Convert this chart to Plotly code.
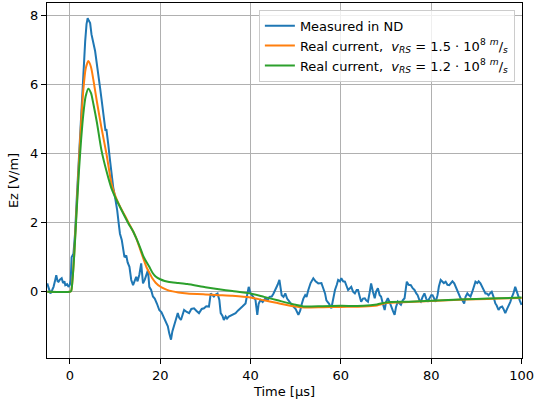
import plotly.graph_objects as go

# Measured signal
t_meas = [-5.0, -4.6, -4.3, -3.9, -3.6, -3.3, -3.0, -2.7, -2.5, -2.2, -1.8, -1.5, -1.2, -1.0, -0.6, -0.3, 0.0, 0.2, 0.4, 0.8,
          1.16, 1.5, 1.9, 2.2, 2.6, 3.0, 3.4, 3.7, 3.95, 4.2, 4.5, 4.8, 5.2, 5.6, 6.1, 6.4, 6.7, 7.0, 7.4, 7.7,
          7.9, 8.1, 8.3, 8.5, 8.9, 9.2, 9.6, 10.0, 10.3, 10.5, 10.8, 11.1, 11.5, 11.8, 12.1, 12.5, 12.8, 13.2, 13.6, 14.0,
          14.4, 14.7, 15.0, 15.4, 15.8, 16.2, 16.6, 17.0, 17.3, 17.6, 18.0, 18.4, 18.8, 19.3, 19.8, 20.3, 20.8, 21.3, 21.7, 22.0,
          22.4, 22.7, 23.1, 23.5, 23.9, 24.2, 24.6, 25.0, 25.3, 25.8, 26.4, 26.9, 27.5, 28.0, 28.6, 29.2, 29.7, 30.2, 30.8, 31.2,
          31.6, 31.9, 32.3, 32.7, 33.1, 33.4, 33.8, 34.1, 34.5, 34.8, 35.2, 35.7, 36.2, 36.7, 37.2, 37.7, 38.2, 38.9, 39.3, 39.6,
          40.0, 40.5, 41.1, 41.5, 41.8, 42.2, 42.7, 43.3, 43.8, 44.2, 44.7, 45.1, 45.5, 46.0, 46.4, 46.9, 47.3, 47.7, 48.1, 48.4,
          49.0, 49.5, 50.0, 50.6, 51.0, 51.3, 51.7, 52.1, 52.4, 52.8, 53.3, 53.9, 54.4, 55.0, 55.7, 56.1, 56.5, 56.8, 57.4, 57.9,
          58.3, 58.7, 59.1, 59.4, 59.8, 60.1, 60.5, 60.9, 61.3, 61.6, 62.0, 62.3, 62.7, 63.1, 63.5, 63.8, 64.2, 64.5, 64.9, 65.3,
          65.6, 66.0, 66.4, 66.7, 67.1, 67.5, 67.8, 68.2, 68.6, 68.9, 69.3, 69.7, 70.0, 70.4, 70.8, 71.1, 71.5, 71.9, 72.2, 72.6,
          73.0, 73.3, 73.7, 74.1, 74.4, 74.6, 75.0, 75.5, 75.9, 76.3, 76.7, 77.0, 77.4, 77.7, 78.1, 78.5, 78.9, 79.2, 79.6, 80.0,
          80.3, 80.7, 81.0, 81.4, 81.7, 82.1, 82.5, 82.8, 83.2, 83.6, 84.0, 84.4, 84.7, 85.1, 85.5, 85.8, 86.2, 86.5, 86.9, 87.3,
          87.6, 88.0, 88.3, 88.7, 89.1, 89.4, 89.8, 90.2, 90.5, 90.9, 91.2, 91.6, 92.0, 92.3, 92.7, 93.0, 93.4, 93.8, 94.2, 94.5,
          94.9, 95.3, 95.7, 96.0, 96.4, 96.8, 97.1, 97.5, 97.9, 98.2, 98.6, 98.9, 99.3, 99.6, 100.0]
ez_meas = [0.24, 0.1, -0.05, 0.05, 0.14, 0.3, 0.48, 0.3, 0.29, 0.35, 0.39, 0.25, 0.3, 0.19, 0.22, 0.14, 0.2, 0.34, 1.0, 1.1,
           1.68, 2.6, 3.6, 4.4, 5.5, 6.5, 7.25, 7.75, 7.92, 7.85, 7.78, 7.45, 7.25, 6.97, 6.48, 6.25, 5.9, 5.6, 5.24, 4.9,
           4.66, 4.71, 4.4, 4.28, 3.8, 3.45, 3.03, 2.75, 2.55, 2.35, 2.0, 1.68, 1.5, 1.2, 1.0, 1.05, 0.85, 0.72, 0.34, 0.19,
           0.3, 0.43, 0.3, 0.5, 0.82, 0.24, 0.35, 0.55, 0.63, 0.14, 0.05, -0.14, -0.2, -0.35, -0.53, -0.6, -0.75, -0.91, -1.0, -1.2,
           -1.39, -1.15, -1.0, -0.8, -0.62, -0.75, -0.82, -0.65, -0.53, -0.58, -0.62, -0.5, -0.48, -0.55, -0.62, -0.5, -0.48, -0.42, -0.43, -0.05,
           -0.1, -0.14, -0.08, -0.05, -0.24, -0.62, -0.7, -0.82, -0.72, -0.78, -0.72, -0.68, -0.65, -0.62, -0.55, -0.5, -0.43, -0.34, -0.1, 0.14,
           -0.05, -0.15, -0.24, -0.67, -0.35, -0.24, -0.3, -0.19, -0.25, -0.15, -0.14, -0.05, 0.05, 0.2, 0.34, -0.1, -0.15, -0.05, -0.2, -0.24,
           -0.35, -0.43, -0.5, -0.67, -0.55, -0.38, -0.2, -0.1, -0.15, 0.05, 0.25, 0.39, 0.3, 0.24, 0.25, 0.1, -0.05, -0.25, -0.35, -0.48,
           -0.2, 0.05, 0.2, 0.34, 0.3, 0.39, 0.3, 0.29, 0.15, 0.05, 0.1, 0.14, 0.0, -0.05, 0.05, 0.05, -0.15, -0.29, -0.2, -0.19,
           -0.25, -0.29, 0.0, 0.24, 0.0, -0.19, 0.0, 0.1, -0.1, -0.14, -0.35, -0.53, -0.3, -0.19, -0.3, -0.43, -0.55, -0.67, -0.45, -0.29,
           -0.35, -0.38, -0.25, -0.19, 0.1, 0.29, 0.2, 0.19, 0.1, 0.05, -0.05, -0.1, -0.25, -0.29, -0.15, -0.05, -0.2, -0.29, -0.2, -0.1,
           -0.1, -0.2, -0.29, -0.1, 0.15, 0.34, 0.3, 0.25, 0.29, 0.2, 0.19, 0.25, 0.3, 0.24, 0.1, 0.0, -0.1, -0.19, -0.25, -0.34,
           -0.15, -0.05, -0.1, -0.14, 0.0, 0.15, 0.29, 0.25, 0.3, 0.24, 0.15, 0.05, -0.05, -0.05, -0.1, -0.05, 0.0, -0.15, -0.34, -0.4,
           -0.53, -0.45, -0.43, -0.5, -0.62, -0.5, -0.43, -0.3, -0.14, -0.05, 0.14, 0.0, -0.14, -0.25, -0.38]

# Modelled fields
t_model = [-5, 0, 0.3, 0.6, 1.0, 1.5, 2.0, 2.5, 3.0, 3.5, 4.1, 4.7, 5.2, 6.0, 7.0, 8.1, 9.2, 10.0, 11.0, 12.0,
           13.0, 14.0, 14.7, 15.5, 16.3, 17.0, 17.6, 18.3, 19.0, 20.0, 21.0, 22.0, 24.0, 26.0, 30.0, 33.0, 36.0, 40.0, 43.0, 46.0,
           50.0, 52.0, 56.0, 60.0, 65.0, 68.0, 70.0, 75.0, 80.0, 85.0, 90.0, 95.0, 100.0]
ez_v15 = [0, 0, 0.02, 0.35, 1.15, 2.4, 3.7, 4.9, 5.85, 6.45, 6.68, 6.5, 6.15, 5.5, 4.75, 4.0, 3.15, 2.8, 2.5, 2.25,
          2.0, 1.75, 1.55, 1.25, 0.95, 0.7, 0.55, 0.38, 0.26, 0.15, 0.08, 0.03, -0.02, -0.05, -0.08, -0.1, -0.12, -0.17, -0.25, -0.33,
          -0.43, -0.46, -0.45, -0.44, -0.43, -0.4, -0.33, -0.3, -0.27, -0.24, -0.22, -0.2, -0.18]
ez_v12 = [0, 0, 0.02, 0.35, 1.1, 2.3, 3.45, 4.4, 5.15, 5.65, 5.88, 5.75, 5.45, 4.9, 4.1, 3.5, 3.0, 2.75, 2.48, 2.22,
          1.97, 1.75, 1.55, 1.3, 1.02, 0.85, 0.72, 0.55, 0.44, 0.36, 0.31, 0.28, 0.25, 0.22, 0.13, 0.07, 0.02, -0.05, -0.15, -0.25,
          -0.38, -0.43, -0.42, -0.41, -0.41, -0.37, -0.31, -0.29, -0.26, -0.23, -0.21, -0.19, -0.17]

x_ticks = [0, 20, 40, 60, 80, 100]
y_ticks = [0, 2, 4, 6, 8]

names = [
    "Measured in ND",
    "Real current,\u00a0\u00a0<i>v</i><sub><i>RS</i></sub> = 1.5 · 10<sup>8</sup> <sup><i>m</i></sup>/<sub><i>s</i></sub>",
    "Real current,\u00a0\u00a0<i>v</i><sub><i>RS</i></sub> = 1.2 · 10<sup>8</sup> <sup><i>m</i></sup>/<sub><i>s</i></sub>",
]
colors = ["#1f77b4", "#ff7f0e", "#2ca02c"]

fig = go.Figure()
fig.add_trace(go.Scatter(x=t_meas, y=ez_meas, mode="lines", name=names[0],
                         line=dict(color=colors[0], width=2)))
fig.add_trace(go.Scatter(x=t_model, y=ez_v15, mode="lines", name=names[1],
                         line=dict(color=colors[1], width=2, shape="spline", smoothing=0.6)))
fig.add_trace(go.Scatter(x=t_model, y=ez_v12, mode="lines", name=names[2],
                         line=dict(color=colors[2], width=2, shape="spline", smoothing=0.6)))

axis_common = dict(showline=True, mirror=True, linecolor="black", linewidth=1,
                   ticks="outside", ticklen=5, tickwidth=1, tickcolor="black",
                   showgrid=True, gridcolor="#b0b0b0", gridwidth=1, zeroline=False,
                   ticklabeloverflow="allow", tickfont=dict(size=13))

fig.update_layout(
    width=536, height=407,
    margin=dict(l=47, r=11, t=2, b=49),
    paper_bgcolor="white", plot_bgcolor="white",
    font=dict(family="DejaVu Sans", size=13, color="black"),
    xaxis=dict(range=[-5.05, 100.1], tickvals=x_ticks,
               title=dict(text="Time [μs]", standoff=5, font=dict(size=13)), **axis_common),
    yaxis=dict(range=[-1.92, 8.36], tickvals=y_ticks,
               title=dict(text="Ez [V/m]", standoff=8, font=dict(size=13)), **axis_common),
    legend=dict(x=0.985, xanchor="right", y=0.981, yanchor="top",
                bgcolor="rgba(255,255,255,0.8)", bordercolor="#cccccc", borderwidth=1,
                font=dict(size=13), itemwidth=30, tracegroupgap=4),
    showlegend=True,
)

fig.write_html("out.html")
